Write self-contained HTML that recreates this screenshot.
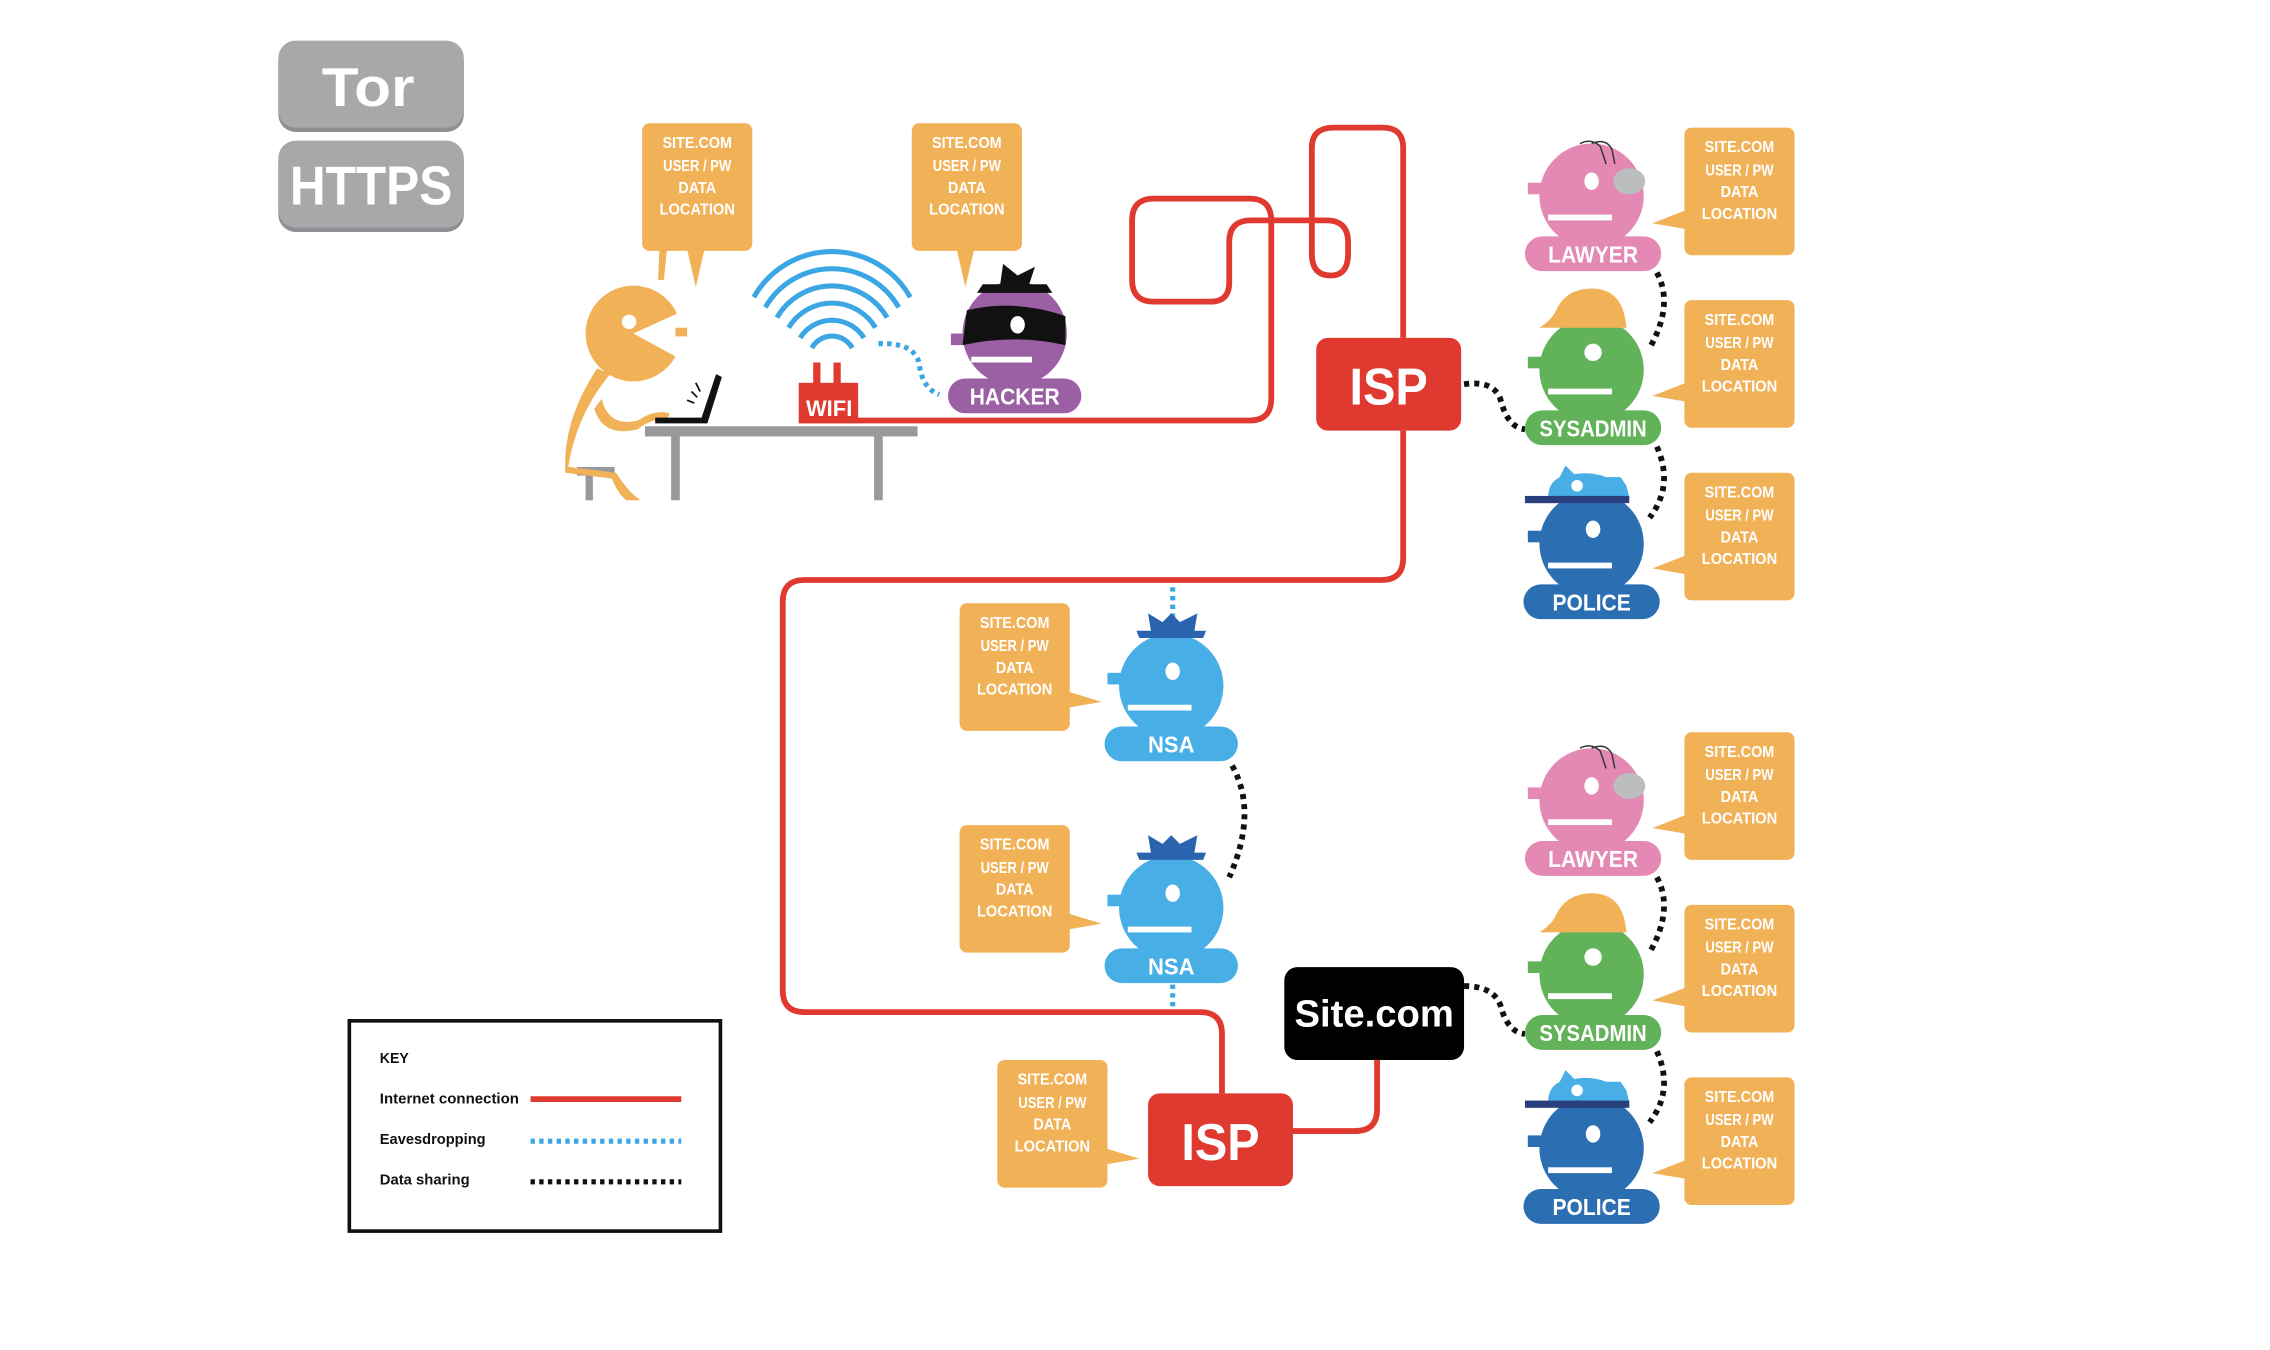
<!DOCTYPE html>
<html><head><meta charset="utf-8"><style>
html,body{margin:0;padding:0;background:#fff}
svg{display:block}
text{font-family:"Liberation Sans Narrow","Liberation Sans",sans-serif;font-weight:bold}
</style></head><body>
<svg width="2270" height="1350" viewBox="0 0 1566 931" preserveAspectRatio="none" xmlns="http://www.w3.org/2000/svg">
<defs>
<g id="bub">
<rect x="0" y="0" width="76" height="88" rx="5" fill="#f1b157"/>
<g fill="#fff" font-size="10.5" text-anchor="middle">
<text x="38" y="17" textLength="48" lengthAdjust="spacingAndGlyphs">SITE.COM</text><text x="38" y="33" textLength="47" lengthAdjust="spacingAndGlyphs">USER / PW</text><text x="38" y="48" textLength="26" lengthAdjust="spacingAndGlyphs">DATA</text><text x="38" y="63" textLength="52" lengthAdjust="spacingAndGlyphs">LOCATION</text></g>
</g>
</defs>

<rect x="192" y="31" width="128" height="60" rx="12" fill="#8e8f92"/>
<rect x="192" y="28" width="128" height="60" rx="12" fill="#a7a8aa"/>
<text x="254" y="73" font-size="38" fill="#fff" text-anchor="middle" textLength="64" lengthAdjust="spacingAndGlyphs">Tor</text>
<rect x="192" y="100" width="128" height="60" rx="12" fill="#8e8f92"/>
<rect x="192" y="97" width="128" height="60" rx="12" fill="#a7a8aa"/>
<text x="256" y="141" font-size="38" fill="#fff" text-anchor="middle" textLength="112" lengthAdjust="spacingAndGlyphs">HTTPS</text>

<g fill="none" stroke="#e03a30" stroke-width="4" stroke-linejoin="round">
<path d="M590 290 H862 Q877 290 877 275 V152 Q877 137 862 137 H796 Q781 137 781 152 V193 Q781 208 796 208 H835 Q848 208 848 195 V167 Q848 152 863 152 H915 Q930 152 930 167 V175 Q930 190 918 190 Q905 190 905 175 V102 Q905 88 920 88 H954 Q968 88 968 102 V233"/>
<path d="M968 297 V385 Q968 400 953 400 H555 Q540 400 540 415 V683 Q540 698 555 698 H828 Q843 698 843 713 V754"/>
<path d="M892 780 H935 Q950 780 950 765 V731"/>
</g>

<g fill="none" stroke="#3aa6e4" stroke-width="3.5" stroke-dasharray="3 3">
<path d="M606 237 Q630 236 634 250 Q636 268 648 272"/>
<path d="M809 405 V426"/>
<path d="M809 679 V697"/>
</g>
<g fill="none" stroke="#111" stroke-width="4" stroke-dasharray="3.5 3.5">
<path d="M1010 265 Q1030 262 1035 275 Q1040 295 1052 296"/>
<path d="M1143 188 Q1155 210 1138 240"/>
<path d="M1143 308 Q1155 335 1138 357"/>
<path d="M1010 680 Q1030 680 1035 693 Q1040 712 1052 713"/>
<path d="M1143 605 Q1155 627 1138 657"/>
<path d="M1143 725 Q1155 752 1138 774"/>
<path d="M850 528 Q868 560 848 605"/>
</g>

<rect x="445" y="294" width="188" height="7" fill="#98999b"/>
<rect x="463" y="300" width="6" height="45" fill="#98999b"/>
<rect x="603" y="300" width="6" height="45" fill="#98999b"/>
<rect x="398" y="322" width="26" height="6" fill="#98999b"/>
<rect x="404" y="326" width="5" height="19" fill="#98999b"/>
<g fill="#f1b157">
<circle cx="437" cy="230" r="33"/>
<path d="M421 258 Q398 285 392 322 L425 326 Q434 340 442 345 L432 345 Q426 340 422 330 L390 326 Q388 290 412 254 Z"/>
<path d="M415 275 Q420 295 440 290 Q452 282 462 285 L460 290 Q450 288 440 296 Q416 302 410 282 Z"/>
<path d="M455 170 q4 -6 8 -3 q2 4 -3 6 l-2 20 h-4 z"/>
</g>
<path d="M437 230 L470 215 L470 248 Z" fill="#fff"/>
<circle cx="434" cy="222" r="5" fill="#fff"/>
<rect x="466" y="226" width="8" height="6" fill="#f1b157"/>
<path d="M452 288 H484 L494 258 L498 260 L488 292 H452 Z" fill="#111"/>
<path d="M477 270 l4 4 M480 264 l3 6 M474 276 l5 2" stroke="#111" stroke-width="1.2"/>

<g fill="none" stroke="#3aa6e4" stroke-width="3.5">
<path d="M520 205 A62 62 0 0 1 628 205"/>
<path d="M528 212 A53 53 0 0 1 620 212"/>
<path d="M536 219 A44 44 0 0 1 612 219"/>
<path d="M544 226 A35 35 0 0 1 604 226"/>
<path d="M552 233 A26 26 0 0 1 596 233"/>
<path d="M560 240 A16 16 0 0 1 588 240"/>
</g>
<rect x="561" y="250" width="5" height="16" fill="#e03a30"/>
<rect x="575" y="250" width="5" height="16" fill="#e03a30"/>
<rect x="551" y="264" width="41" height="28" fill="#e03a30"/>
<text x="572" y="287" font-size="15" fill="#fff" text-anchor="middle" textLength="32" lengthAdjust="spacingAndGlyphs">WIFI</text>

<g transform="translate(700,230)">
<circle r="36" fill="#9b5fa4"/>
<rect x="-44" y="0" width="10" height="8" fill="#9b5fa4"/>
<path d="M-33 -16 Q0 -24 35 -12 V8 Q0 0 -36 8 Z" fill="#111"/>
<ellipse cx="2" cy="-6" rx="5" ry="6" fill="#fff"/>
<rect x="-30" y="16" width="42" height="4" fill="#fff"/>
<path d="M-26 -28 H26 L22 -34 H10 L14 -46 L2 -40 L-8 -48 L-10 -34 H-22 Z" fill="#111"/>
<rect x="-46" y="31" width="92" height="24" rx="12" fill="#9b5fa4"/>
<text x="0" y="49" font-size="16" fill="#fff" text-anchor="middle" textLength="62" lengthAdjust="spacingAndGlyphs">HACKER</text>
</g>

<rect x="908" y="233" width="100" height="64" rx="8" fill="#e03a30"/>
<text x="958" y="279" font-size="36" fill="#fff" text-anchor="middle" textLength="54" lengthAdjust="spacingAndGlyphs">ISP</text>
<rect x="792" y="754" width="100" height="64" rx="8" fill="#e03a30"/>
<text x="842" y="800" font-size="36" fill="#fff" text-anchor="middle" textLength="54" lengthAdjust="spacingAndGlyphs">ISP</text>
<rect x="886" y="667" width="124" height="64" rx="9" fill="#000"/>
<text x="948" y="708" font-size="26" fill="#fff" text-anchor="middle" textLength="110" lengthAdjust="spacingAndGlyphs">Site.com</text>

<g id="grp">
<g transform="translate(1098,135)">
<circle r="36" fill="#e389b3"/>
<rect x="-44" y="-9" width="10" height="8" fill="#e389b3"/>
<ellipse cx="0" cy="-10" rx="5" ry="6" fill="#fff"/>
<ellipse cx="26" cy="-10" rx="11" ry="9" fill="#bcbdbf"/>
<rect x="-30" y="13" width="44" height="4" fill="#fff"/>
<path d="M-8 -36 q8 -4 14 2 l4 12 M0 -36 q10 -4 14 4 l2 10" fill="none" stroke="#333" stroke-width="1"/>
<rect x="-46" y="28" width="94" height="24" rx="12" fill="#e389b3"/>
<text x="1" y="46" font-size="16" fill="#fff" text-anchor="middle" textLength="62" lengthAdjust="spacingAndGlyphs">LAWYER</text>
</g>
<g transform="translate(1098,255)">
<circle r="36" fill="#62b25a"/>
<rect x="-44" y="-9" width="10" height="8" fill="#62b25a"/>
<circle cx="1" cy="-12" r="6" fill="#fff"/>
<rect x="-30" y="13" width="44" height="4" fill="#fff"/>
<path d="M-36 -29 Q-28 -34 -25 -40 Q-18 -56 0 -56 Q22 -56 24 -29 Z" fill="#f1b157"/>
<rect x="-46" y="28" width="94" height="24" rx="12" fill="#62b25a"/>
<text x="1" y="46" font-size="16" fill="#fff" text-anchor="middle" textLength="74" lengthAdjust="spacingAndGlyphs">SYSADMIN</text>
</g>
<g transform="translate(1098,375)">
<circle r="36" fill="#2b6fb2"/>
<rect x="-44" y="-9" width="10" height="8" fill="#2b6fb2"/>
<ellipse cx="1" cy="-10" rx="5" ry="6" fill="#fff"/>
<rect x="-30" y="13" width="44" height="4" fill="#fff"/>
<path d="M-30 -32 Q-30 -42 -22 -46 L-18 -54 L-12 -48 Q0 -50 10 -46 L20 -46 L24 -40 L26 -32 Z" fill="#47aee6"/>
<circle cx="-10" cy="-40" r="4" fill="#fff"/>
<rect x="-46" y="-33" width="72" height="5" fill="#2a3f7e"/>
<rect x="-47" y="28" width="94" height="24" rx="12" fill="#2b6fb2"/>
<text x="0" y="46" font-size="16" fill="#fff" text-anchor="middle" textLength="54" lengthAdjust="spacingAndGlyphs">POLICE</text>
</g>
<use href="#bub" x="1162" y="88"/>
<use href="#bub" x="1162" y="207"/>
<use href="#bub" x="1162" y="326"/>
<path d="M1163 145 L1140 154 L1163 158 Z M1163 264 L1140 273 L1163 277 Z M1163 383 L1140 392 L1163 396 Z" fill="#f1b157"/>
</g>
<use href="#grp" x="0" y="417"/>

<g id="nsa" transform="translate(808,473)">
<circle r="36" fill="#47aee6"/>
<rect x="-44" y="-9" width="10" height="8" fill="#47aee6"/>
<ellipse cx="1" cy="-10" rx="5" ry="6" fill="#fff"/>
<rect x="-30" y="13" width="44" height="4" fill="#fff"/>
<path d="M-22 -33 H22 L24 -38 H16 L18 -50 L6 -44 L0 -50 L-6 -44 L-16 -50 L-14 -38 H-24 Z" fill="#2a64ae"/>
<rect x="-46" y="28" width="92" height="24" rx="12" fill="#47aee6"/>
<text x="0" y="46" font-size="16" fill="#fff" text-anchor="middle" textLength="32" lengthAdjust="spacingAndGlyphs">NSA</text>
</g>
<use href="#nsa" x="0" y="153"/>
<use href="#bub" x="662" y="416"/>
<use href="#bub" x="662" y="569"/>
<path d="M737 477 L760 484 L737 488 Z M737 630 L760 637 L737 641 Z" fill="#f1b157"/>
<use href="#bub" x="688" y="731"/>
<path d="M763 792 L786 799 L763 803 Z" fill="#f1b157"/>

<use href="#bub" x="443" y="85"/>
<path d="M474 172 L480 198 L486 172 Z" fill="#f1b157"/>
<use href="#bub" x="629" y="85"/>
<path d="M660 172 L666 198 L672 172 Z" fill="#f1b157"/>

<rect x="241" y="704" width="256" height="145" fill="#fff" stroke="#111" stroke-width="2.5"/>
<g font-size="10" fill="#111">
<text x="262" y="733" textLength="20" lengthAdjust="spacingAndGlyphs">KEY</text>
<text x="262" y="761" textLength="96" lengthAdjust="spacingAndGlyphs">Internet connection</text>
<text x="262" y="789" textLength="73" lengthAdjust="spacingAndGlyphs">Eavesdropping</text>
<text x="262" y="817" textLength="62" lengthAdjust="spacingAndGlyphs">Data sharing</text>
</g>
<line x1="366" y1="758" x2="470" y2="758" stroke="#e03a30" stroke-width="4"/>
<line x1="366" y1="787" x2="470" y2="787" stroke="#3aa6e4" stroke-width="3.5" stroke-dasharray="3 3"/>
<line x1="366" y1="815" x2="470" y2="815" stroke="#111" stroke-width="3.5" stroke-dasharray="3 3"/>
</svg>
</body></html>
